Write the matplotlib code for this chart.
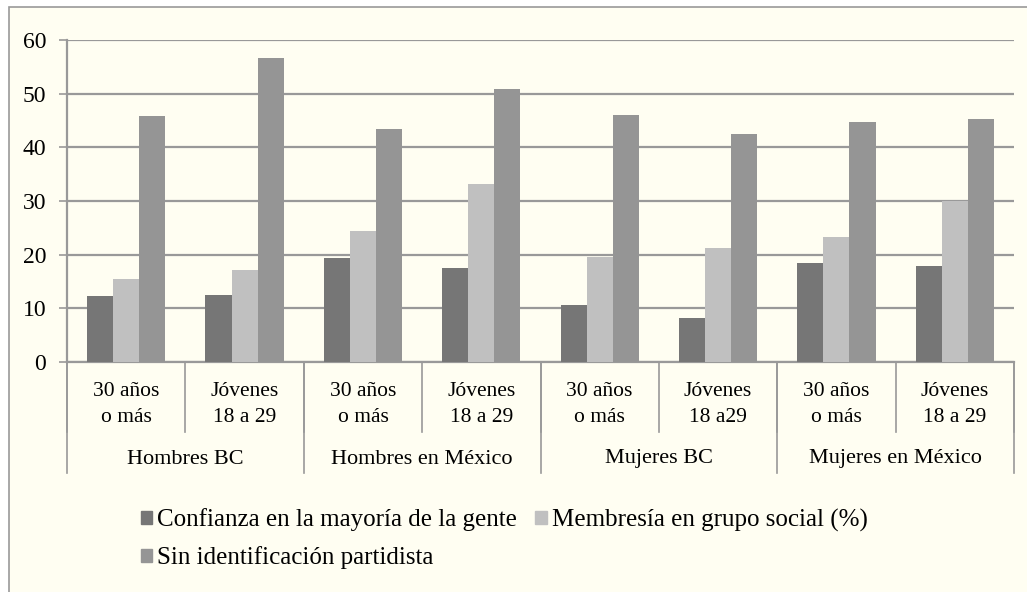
import matplotlib
matplotlib.use("Agg")
import matplotlib.pyplot as plt
import numpy as np
from matplotlib.patches import Rectangle, Patch

plt.rcParams["font.family"] = ["Liberation Serif", "DejaVu Serif"]

# Datos
subcategorias = ["30 años\no más", "Jóvenes\n18 a 29", "30 años\no más", "Jóvenes\n18 a 29",
                 "30 años\no más", "Jóvenes\n18 a29", "30 años\no más", "Jóvenes\n18 a 29"]
grupos = ["Hombres BC", "Hombres en México", "Mujeres BC", "Mujeres en México"]
confianza = [12.3, 12.4, 19.4, 17.5, 10.6, 8.2, 18.4, 17.8]
membresia = [15.5, 17.1, 24.5, 33.1, 19.6, 21.2, 23.2, 30.0]
sin_partido = [45.8, 56.7, 43.4, 50.8, 46.0, 42.5, 44.8, 45.2]
series_nombres = ["Confianza en la mayoría de la gente", "Membresía en grupo social (%)",
                  "Sin identificación partidista"]
colores = ["#767676", "#c0c0c0", "#959595"]
fondo = "#fffef2"
gris = "#999999"

W, H = 1027, 592
fig = plt.figure(figsize=(W / 100, H / 100), dpi=100, facecolor="white")
marco = Rectangle((9 / W, -0.1), 1.2, 1 - 7 / H + 0.1, transform=fig.transFigure,
                  facecolor=fondo, edgecolor=gris, linewidth=1.2, zorder=-10)
fig.add_artist(marco)

ax = fig.add_axes([67 / W, 1 - 362 / H, (1014 - 67) / W, (362 - 40) / H])
ax.patch.set_alpha(0)

x = np.arange(len(subcategorias))
ancho = 0.22
for i, (vals, col) in enumerate(zip([confianza, membresia, sin_partido], colores)):
    ax.bar(x + (i - 1) * ancho, vals, width=ancho, color=col, zorder=3)

ax.set_xlim(-0.5, len(subcategorias) - 0.5)
ax.set_ylim(0, 60)
ax.set_yticks(range(0, 61, 10))
ax.yaxis.grid(True, color=gris, linewidth=1.6, zorder=0)
ax.tick_params(axis="y", length=6, width=1.2, color=gris, pad=9, labelsize=17)
ax.set_xticks([])
for s in ["top", "right"]:
    ax.spines[s].set_visible(False)
for s in ["left", "bottom"]:
    ax.spines[s].set_color(gris)
    ax.spines[s].set_linewidth(1.6)

trans = ax.get_xaxis_transform()
alto = 322.0
# separadores de subcategorias
for b in np.arange(-0.5, len(subcategorias), 1.0):
    ax.plot([b, b], [0, -(432 - 362) / alto], transform=trans, color=gris, lw=1.2, clip_on=False)
# separadores de grupos
for b in np.arange(-0.5, len(subcategorias), 2.0):
    ax.plot([b, b], [0, -(473 - 362) / alto], transform=trans, color=gris, lw=1.2, clip_on=False)

for xi, lab in zip(x, subcategorias):
    ax.text(xi, -(405 - 362) / alto, lab, transform=trans, ha="center", va="center",
            fontsize=15.5, linespacing=1.5)
for gi, g in enumerate(grupos):
    ax.text(2 * gi + 0.5, -(459 - 362) / alto, g, transform=trans, ha="center", va="center",
            fontsize=16)

handles = [Patch(color=colores[0]), Patch(color=colores[2]), Patch(color=colores[1])]
labels = [series_nombres[0], series_nombres[2], series_nombres[1]]
fig.legend(handles, labels, ncol=2, loc="upper left", bbox_to_anchor=(128 / W, 1 - 496 / H),
           frameon=False, fontsize=18, handlelength=0.45, handleheight=0.45, handletextpad=0.2,
           columnspacing=0.75, labelspacing=0.6, borderpad=0)

fig.savefig("out.png", dpi=100, facecolor="white")
